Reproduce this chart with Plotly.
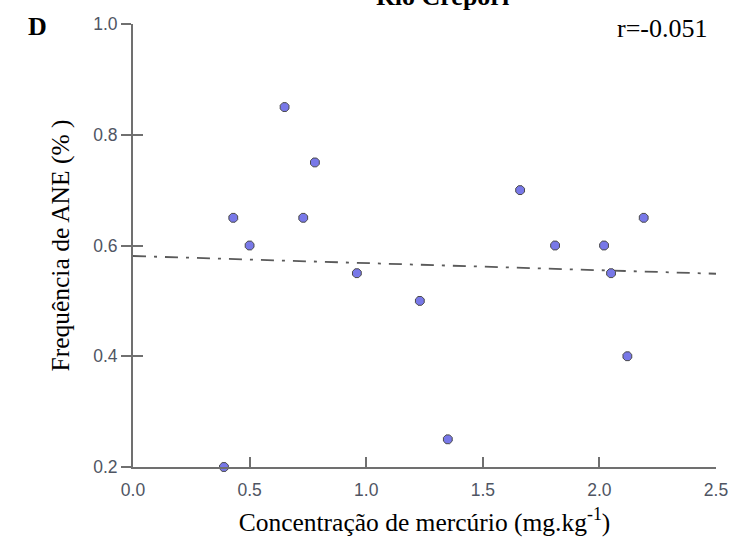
import plotly.graph_objects as go

# ---- data ----
hg_conc = [0.39, 0.43, 0.50, 0.65, 0.73, 0.78, 0.96, 1.23, 1.35, 1.66, 1.81, 2.02, 2.05, 2.12, 2.19]
ane_freq = [0.20, 0.65, 0.60, 0.85, 0.65, 0.75, 0.55, 0.50, 0.25, 0.70, 0.60, 0.60, 0.55, 0.40, 0.65]
fit_x = [0.0, 2.5]
fit_y = [0.581, 0.549]
x_ticks = [0.0, 0.5, 1.0, 1.5, 2.0, 2.5]
y_ticks = [0.2, 0.4, 0.6, 0.8, 1.0]

W, H = 740, 544
L, R, T, B = 133, 17, 24, 73
ph = H - T - B
pw = W - L - R

def py(p):  # pixel y -> paper
    return (H - B - p) / ph

def px(p):  # pixel x -> paper
    return (p - L) / pw

serif = "Liberation Serif, Times New Roman, serif"
sans = "Liberation Sans, Arial, sans-serif"
axis_col = "#707070"
tick_col = "#4f5563"

fig = go.Figure()
fig.add_trace(go.Scatter(
    x=fit_x, y=fit_y, mode="lines",
    line=dict(color="#5a5a5a", width=1.8, dash="13px,8px,3px,8px"),
    hoverinfo="skip", showlegend=False,
))
fig.add_trace(go.Scatter(
    x=hg_conc, y=ane_freq, mode="markers",
    marker=dict(symbol="octagon", size=9.5, color="#7878E8",
                line=dict(color="#4a4a4a", width=1)),
    cliponaxis=False, showlegend=False,
))
# trace on a twin axis that carries the inside half of the crossing y ticks
fig.add_trace(go.Scatter(x=[0], y=[None], yaxis="y2", showlegend=False, hoverinfo="skip"))

fig.update_layout(
    width=W, height=H,
    margin=dict(l=L, r=R, t=T, b=B),
    paper_bgcolor="white", plot_bgcolor="white",
    xaxis=dict(
        range=[0, 2.5], tickvals=x_ticks, tickformat=".1f",
        showgrid=False, zeroline=False,
        showline=True, linecolor=axis_col, linewidth=2,
        ticks="inside", ticklen=10, tickwidth=1.5, tickcolor=axis_col,
        ticklabelstandoff=6,
        tickfont=dict(family=sans, size=17.5, color=tick_col),
        title=dict(text="Concentração de mercúrio (mg.kg<sup>-1</sup>)",
                   font=dict(family=serif, size=25.5, color="black"), standoff=14),
    ),
    yaxis=dict(
        range=[0.2, 1.0], tickvals=y_ticks, tickformat=".1f",
        showgrid=False, zeroline=False,
        showline=True, linecolor=axis_col, linewidth=2,
        ticks="outside", ticklen=10, tickwidth=1.5, tickcolor=axis_col,
        tickfont=dict(family=sans, size=17.5, color=tick_col),
        title=dict(text="Frequência de ANE (% )",
                   font=dict(family=serif, size=25.5, color="black"), standoff=16),
    ),
    yaxis2=dict(
        overlaying="y", range=[0.2, 1.0], tickvals=y_ticks[1:],
        showticklabels=False, showgrid=False, zeroline=False, showline=False,
        ticks="inside", ticklen=10, tickwidth=1.5, tickcolor=axis_col,
    ),
    annotations=[
        dict(text="<b>Rio Crepori</b>", xref="paper", yref="paper",
             x=px(446), y=py(13), xanchor="center", yanchor="bottom",
             showarrow=False, font=dict(family=serif, size=26, color="black")),
        dict(text="<b>D</b>", xref="paper", yref="paper",
             x=px(36), y=py(27), xanchor="center", yanchor="middle",
             showarrow=False, font=dict(family=serif, size=26, color="black")),
        dict(text="r=-0.051", xref="paper", yref="paper",
             x=px(716), y=py(29), xanchor="right", yanchor="middle",
             showarrow=False, font=dict(family=serif, size=26, color="black")),
    ],
)

fig.write_html("out.html")
